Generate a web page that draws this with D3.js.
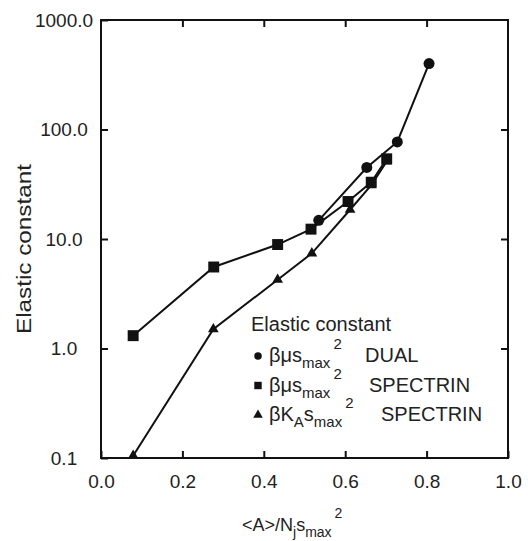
<!DOCTYPE html>
<html>
<head>
<meta charset="utf-8">
<script src="https://cdn.jsdelivr.net/npm/d3@7"></script>
<style>
  html, body { margin: 0; padding: 0; background: #fff; }
  svg { display: block; font-family: "Liberation Sans", Arial, Helvetica, sans-serif; }
</style>
</head>
<body>
<svg id="chart" width="528" height="541"></svg>
<script>
// ---- data ----
const xTicks = [0.0, 0.2, 0.4, 0.6, 0.8, 1.0];
const yTicks = [0.1, 1, 10, 100, 1000];
const dualX = [0.535, 0.653, 0.728, 0.806];
const dualY = [14.8, 45, 77, 400];
const specMuX = [0.079, 0.277, 0.434, 0.516, 0.607, 0.664, 0.702];
const specMuY = [1.31, 5.55, 8.9, 12.3, 22, 33, 54];
const specKX = [0.079, 0.276, 0.434, 0.518, 0.612, 0.664, 0.702];
const specKY = [0.105, 1.5, 4.25, 7.4, 18.5, 31, 51];

const svg = d3.select("#chart");
const L = 101, R = 508, T = 20, B = 458;
const x = d3.scaleLinear().domain([0, 1]).range([L, R]);
const y = d3.scaleLog().domain([0.1, 1000]).range([B, T]);

// axes
const gB = svg.append("g").attr("transform", `translate(0,${B})`)
  .call(d3.axisBottom(x).tickValues(xTicks).tickSizeInner(-7).tickSizeOuter(0).tickFormat(d3.format(".1f")));
gB.selectAll("text").attr("y", 30).attr("dy", 0).attr("font-size", 19).attr("fill", "#222");
const gL = svg.append("g").attr("transform", `translate(${L},0)`)
  .call(d3.axisLeft(y).tickValues(yTicks).tickSizeInner(-7).tickSizeOuter(0).tickFormat(d3.format(".1f")));
gL.selectAll("text").attr("x", 64 - L).attr("text-anchor", "middle").attr("font-size", 19).attr("fill", "#222");
const gT = svg.append("g").attr("transform", `translate(0,${T})`)
  .call(d3.axisTop(x).tickValues(xTicks.slice(1, -1)).tickSizeInner(-7).tickSizeOuter(0).tickFormat(""));
const gR = svg.append("g").attr("transform", `translate(${R},0)`)
  .call(d3.axisRight(y).tickValues(yTicks.slice(1, -1)).tickSizeInner(-7).tickSizeOuter(0).tickFormat(""));
[gB, gL, gT, gR].forEach(g => {
  g.select(".domain").remove();
  g.selectAll("line").attr("stroke", "#111").attr("stroke-width", 2);
});
svg.append("rect").attr("x", L).attr("y", T).attr("width", R - L).attr("height", B - T)
  .attr("fill", "none").attr("stroke", "#111").attr("stroke-width", 2);

// lines
const line = d3.line().x(d => x(d[0])).y(d => y(d[1]));
const series = [
  { xs: specKX, ys: specKY, shape: "tri" },
  { xs: specMuX, ys: specMuY, shape: "sq" },
  { xs: dualX, ys: dualY, shape: "circ" }
];
series.forEach(s => {
  const pts = s.xs.map((v, i) => [v, s.ys[i]]);
  svg.append("path").datum(pts).attr("d", line)
    .attr("fill", "none").attr("stroke", "#111").attr("stroke-width", 2);
});
const sym = { circ: d3.symbolCircle, sq: d3.symbolSquare, tri: d3.symbolTriangle };
const size = { circ: 95, sq: 120, tri: 50 };
series.forEach(s => {
  const pts = s.xs.map((v, i) => [v, s.ys[i]]);
  svg.append("g").selectAll("path").data(pts).join("path")
    .attr("transform", d => `translate(${x(d[0])},${y(d[1])})`)
    .attr("d", d3.symbol().type(sym[s.shape]).size(size[s.shape]))
    .attr("fill", "#111");
});

// axis titles
svg.append("text").attr("transform", "translate(31,249) rotate(-90)")
  .attr("text-anchor", "middle").attr("font-size", 20).attr("fill", "#222")
  .attr("textLength", 170).attr("lengthAdjust", "spacingAndGlyphs")
  .text("Elastic constant");

// rich text helper: parts = [text, level]; level 0 base, 1 sub, 2 sup
const lvOff = { 0: 0, 1: 6, 2: -13 };
function richText(sel, x0, by, parts, baseSize, smallSize) {
  const t = sel.append("text").attr("x", x0).attr("y", by).attr("fill", "#222");
  parts.forEach(([str, lv]) => {
    t.append("tspan").attr("y", by + lvOff[lv]).attr("dx", lv === 2 ? 3 : 0)
      .attr("font-size", lv === 0 ? baseSize : smallSize).text(str);
  });
  return t;
}
richText(svg, 242, 531, [["<A>/N", 0], ["j", 1], ["s", 0], ["max", 1], ["2", 2]], 18, 14);

// legend
const lg = svg.append("g").attr("fill", "#222");
lg.append("text").attr("x", 251).attr("y", 331).attr("font-size", 20).text("Elastic constant");
const entries = [
  { shape: "circ", parts: [["βμs", 0], ["max", 1], ["2", 2]], name: "DUAL", nameX: 365, ms: 45, by: 362 },
  { shape: "sq", parts: [["βμs", 0], ["max", 1], ["2", 2]], name: "SPECTRIN", nameX: 369, ms: 55, by: 391.5 },
  { shape: "tri", parts: [["βK", 0], ["A", 1], ["s", 0], ["max", 1], ["2", 2]], name: "SPECTRIN", nameX: 381, ms: 40, by: 421 }
];
entries.forEach(e => {
  const by = e.by;
  lg.append("path").attr("transform", `translate(258,${by - 6})`)
    .attr("d", d3.symbol().type(sym[e.shape]).size(e.ms)).attr("fill", "#111");
  richText(lg, 269, by, e.parts, 20, 15);
  lg.append("text").attr("x", e.nameX).attr("y", by).attr("font-size", 20).attr("fill", "#222").text(e.name);
});
</script>
</body>
</html>
